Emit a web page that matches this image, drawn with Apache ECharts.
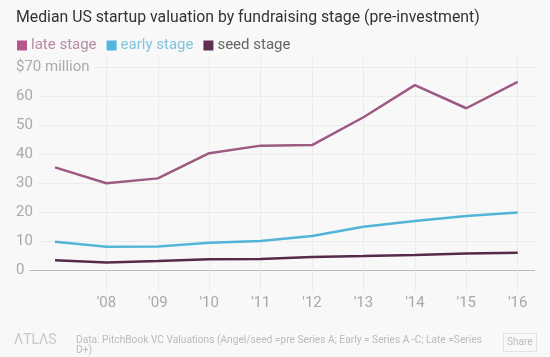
<!DOCTYPE html>
<html><head><meta charset="utf-8">
<script src="https://cdn.jsdelivr.net/npm/echarts@6/dist/echarts.min.js"></script>
<style>html,body{margin:0;padding:0;background:#f8f8f8;}#c{width:550px;height:357px;}</style>
</head><body><div id="c"></div>
<script>
const years = ["'07","'08","'09","'10","'11","'12","'13","'14","'15","'16"];
const lateStage = [35.6, 30.1, 31.8, 40.5, 43.1, 43.3, 52.9, 64.0, 56.0, 65.1];
const earlyStage = [9.9, 8.2, 8.3, 9.6, 10.2, 11.9, 15.1, 17.1, 18.8, 20.0];
const seedStage = [3.5, 2.8, 3.3, 3.9, 4.0, 4.7, 5.0, 5.35, 5.9, 6.1];
const yTicks = [0, 10, 20, 30, 40, 50, 60, 70];

const FONT = 'Roboto';
const chart = echarts.init(document.getElementById('c'), null, {renderer: 'canvas'});
const top0 = 57, top1 = 67.7, bottom = 86.5;
const pxPer = (357 - bottom - top1) / 70;
const max0 = 70 + (top1 - top0) / pxPer;
chart.setOption({
  backgroundColor: '#f8f8f8',
  animation: false,
  title: {
    text: 'Median US startup valuation by fundraising stage (pre-investment)',
    left: 11, top: 5,
    textStyle: {fontFamily: FONT, fontSize: 15.8, fontWeight: 'normal', color: '#333'}
  },
  legend: {
    left: 12, top: 33, itemWidth: 10, itemHeight: 10, itemGap: 10,
    icon: 'rect',
    textStyle: {fontFamily: FONT, fontSize: 15, padding: [0,0,0,-1]},
    data: [
      {name: 'late stage', textStyle: {color: '#b78aa8'}},
      {name: 'early stage', textStyle: {color: '#82c3dc'}},
      {name: 'seed stage', textStyle: {color: '#666'}}
    ]
  },
  grid: [
    {left: 55, right: 32.3, top: top0, bottom: bottom},
    {left: 16, right: 15, top: top1, bottom: bottom}
  ],
  xAxis: [
    {
      gridIndex: 0, type: 'category', boundaryGap: false, data: years,
      axisLine: {show: false},
      axisTick: {show: true, length: 22, interval: (i) => i > 0, lineStyle: {color: '#ececec'}},
      axisLabel: {margin: 25, fontFamily: FONT, fontSize: 15, color: '#a8a8a8',
        interval: 0, formatter: (v, i) => i === 0 ? '' : v},
      splitLine: {show: true, interval: (i) => i > 0, lineStyle: {color: '#ececec', width: 1}}
    },
    {
      gridIndex: 1, type: 'value', min: 0, max: 1, show: false
    }
  ],
  yAxis: [
    {gridIndex: 0, type: 'value', min: 0, max: max0, show: false},
    {
      gridIndex: 1, type: 'value', min: 0, max: 70, interval: 10,
      axisLine: {show: false}, axisTick: {show: false},
      axisLabel: {inside: true, margin: 0, fontFamily: FONT, fontSize: 15, color: '#aaa',
        backgroundColor: '#f8f8f8', padding: [2, 5, 2, 0],
        formatter: (v) => v === 70 ? '$70 million' : String(v)},
      splitLine: {show: true, lineStyle: {color: ['#b8b8b8','#ececec','#ececec','#ececec','#ececec','#ececec','#ececec','#ececec'], width: 1}}
    }
  ],
  series: [
    {name: 'late stage', type: 'line', xAxisIndex: 0, yAxisIndex: 0, data: lateStage,
      color: '#b4578f', lineStyle: {color: '#9c5a82', width: 2.5}, showSymbol: false, symbol: 'none', z: 5},
    {name: 'early stage', type: 'line', xAxisIndex: 0, yAxisIndex: 0, data: earlyStage,
      color: '#4fb6dd', lineStyle: {color: '#52b5d8', width: 2.5}, showSymbol: false, symbol: 'none', z: 5},
    {name: 'seed stage', type: 'line', xAxisIndex: 0, yAxisIndex: 0, data: seedStage,
      color: '#5e2f50', lineStyle: {color: '#572a49', width: 2.5}, showSymbol: false, symbol: 'none', z: 5}
  ],
  graphic: [
    {type: 'text', left: 14, top: 333, style: {text: 'ΛTLΛS', fontFamily: FONT, fontSize: 14, fill: '#c8c8c8', letterSpacing: 5.5}},
    {type: 'text', left: 76, top: 335, style: {text: 'Data: PitchBook VC Valuations (Angel/seed =pre Series A; Early = Series A -C; Late =Series\nD+)', fontFamily: FONT, fontSize: 10.2, fill: '#bbb', lineHeight: 10}},
    {type: 'rect', left: 503, top: 333, shape: {width: 33, height: 18}, style: {fill: '#f8f8f8', stroke: '#e2e2e2', lineWidth: 1}},
    {type: 'text', left: 507, top: 337, style: {text: 'Share', fontFamily: FONT, fontSize: 10, fill: '#bbb'}}
  ]
});
</script></body></html>
